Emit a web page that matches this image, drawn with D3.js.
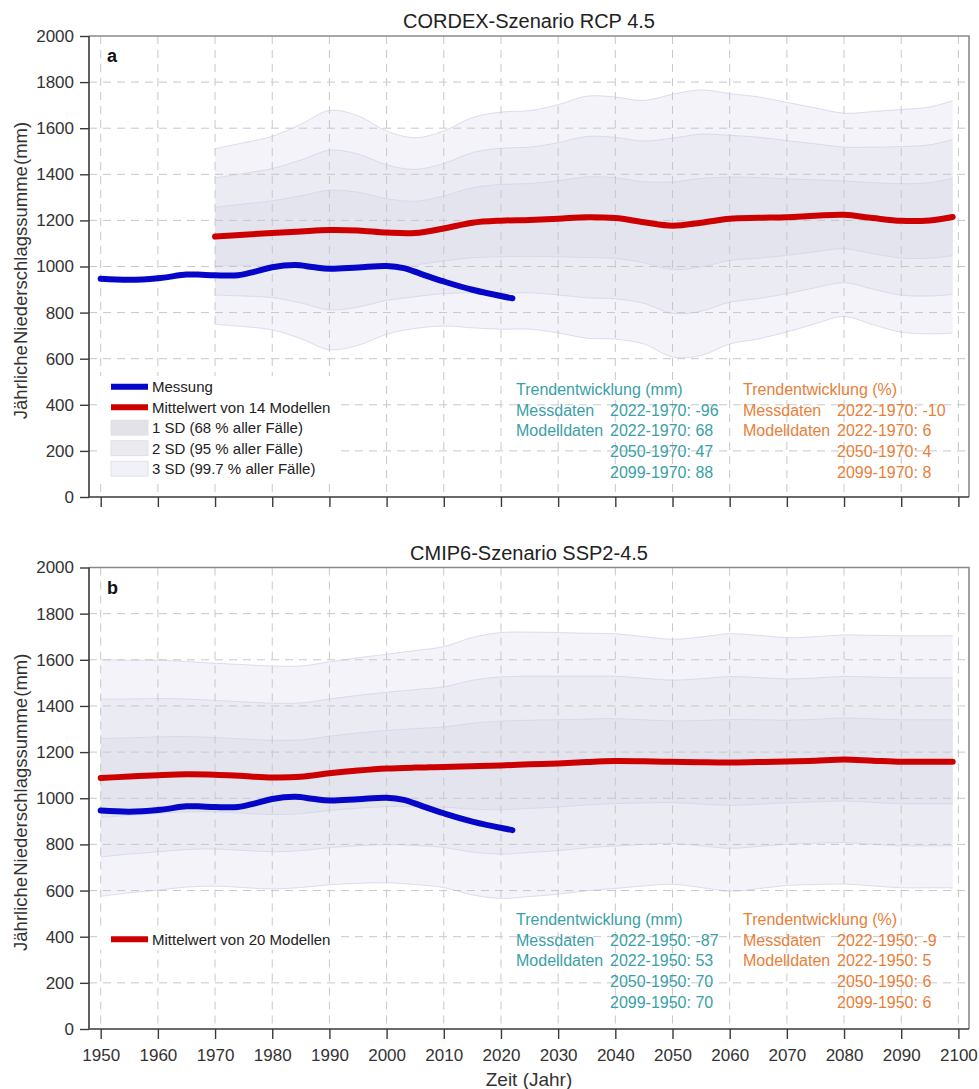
<!DOCTYPE html>
<html>
<head>
<meta charset="utf-8">
<script src="https://cdn.jsdelivr.net/npm/d3@7"></script>
<style>
  body { margin: 0; background: #fff; }
  svg { display: block; }
  text { font-family: "Liberation Sans", Arial, Helvetica, sans-serif; }
</style>
</head>
<body>
<svg id="chart" width="979" height="1089"></svg>
<script>
// ---- Measured annual precipitation (mm) ----
const obsYears  = [1950, 1955, 1960, 1965, 1967, 1970, 1974, 1977, 1980, 1984, 1987, 1990, 1995, 2000, 2003, 2006, 2010, 2015, 2022];
const obsValues = [947, 942, 949, 965, 965, 962, 962, 978, 997, 1006, 998, 990, 996, 1002, 993, 968, 935, 899, 862];

// ---- CORDEX RCP 4.5 ensemble (14 models): mean and standard deviation ----
const cordexYears = [1970, 1975, 1980, 1985, 1990, 1995, 2000, 2005, 2010, 2015, 2020, 2025, 2030, 2035,
                     2040, 2045, 2050, 2055, 2060, 2065, 2070, 2075, 2080, 2085, 2090, 2095, 2099];
const cordexMean  = [1130, 1138, 1145, 1152, 1158, 1156, 1147, 1145, 1165, 1190, 1199, 1202, 1207, 1214,
                     1210, 1192, 1177, 1190, 1207, 1211, 1214, 1220, 1224, 1210, 1198, 1200, 1215];
const cordexSd    = [127, 133, 140, 155, 173, 166, 147, 138, 141, 152, 157, 158, 165, 175,
                     175, 176, 190, 192, 181, 175, 166, 156, 147, 154, 161, 164, 168];

// ---- CMIP6 SSP2-4.5 ensemble (20 models): mean and standard deviation ----
const cmipYears = [1950, 1955, 1960, 1965, 1970, 1975, 1980, 1985, 1990, 1995, 2000, 2005, 2010, 2015, 2020, 2025,
                   2030, 2035, 2040, 2045, 2050, 2055, 2060, 2065, 2070, 2075, 2080, 2085, 2090, 2095, 2099];
const cmipMean  = [1088, 1094, 1100, 1104, 1102, 1096, 1090, 1093, 1108, 1120, 1129, 1133, 1135, 1139, 1142, 1147,
                   1151, 1157, 1161, 1160, 1158, 1156, 1155, 1157, 1159, 1163, 1168, 1163, 1158, 1158, 1158];
const cmipSd    = [171, 168, 166, 163, 161, 161, 161, 160, 161, 163, 165, 169, 174, 186, 192, 191,
                   189, 186, 184, 180, 177, 181, 186, 183, 179, 179, 180, 181, 182, 182, 182];

// ---- Axes ----
const yTicks = [0, 200, 400, 600, 800, 1000, 1200, 1400, 1600, 1800, 2000];
const xTicks = [1950, 1960, 1970, 1980, 1990, 2000, 2010, 2020, 2030, 2040, 2050, 2060, 2070, 2080, 2090, 2100];
const sdLevels = [3, 2, 1];

// ---- Text ----
const titleA = "CORDEX-Szenario RCP 4.5";
const titleB = "CMIP6-Szenario SSP2-4.5";
const yAxisTitle = "Jährliche Niederschlagssumme (mm)";
const xAxisTitle = "Zeit (Jahr)";
const legendObs = "Messung";
const legendMeanA = "Mittelwert von 14 Modellen";
const legendMeanB = "Mittelwert von 20 Modellen";
const legendSd = ["1 SD (68 % aller Fälle)", "2 SD (95 % aller Fälle)", "3 SD (99.7 % aller Fälle)"];
const trendHeadMm = "Trendentwicklung (mm)";
const trendHeadPct = "Trendentwicklung (%)";
const trendMmA  = [["Messdaten", "2022-1970: -96"], ["Modelldaten", "2022-1970: 68"], ["", "2050-1970: 47"], ["", "2099-1970: 88"]];
const trendPctA = [["Messdaten", "2022-1970: -10"], ["Modelldaten", "2022-1970: 6"], ["", "2050-1970: 4"], ["", "2099-1970: 8"]];
const trendMmB  = [["Messdaten", "2022-1950: -87"], ["Modelldaten", "2022-1950: 53"], ["", "2050-1950: 70"], ["", "2099-1950: 70"]];
const trendPctB = [["Messdaten", "2022-1950: -9"], ["Modelldaten", "2022-1950: 5"], ["", "2050-1950: 6"], ["", "2099-1950: 6"]];

// ---- Styling ----
const BLUE = "#0606c8", RED = "#cc0000";
const TEAL = "#3a9fa8", ORANGE = "#e8803a";
const bandFill = { 3: "#f3f3f9", 2: "#ebebf4", 1: "#e4e4ef" };
const legendBoxFill = ["#e3e3e7", "#eaeaef", "#f1f1f8"];

const svg = d3.select("#chart");
const plotLeft = 89, plotRight = 969;
const x = d3.scaleLinear().domain([1950, 2100]).range([100.7, 958.4]);

function drawPanel(cfg) {
  const g = svg.append("g");
  const y = d3.scaleLinear().domain([0, 2000]).range([cfg.bottom, cfg.top]);
  const ens = cfg.years.map((yr, i) => ({ year: yr, mean: cfg.mean[i], sd: cfg.sd[i] }));

  // SD envelopes, widest first
  sdLevels.forEach(k => {
    const area = d3.area().curve(d3.curveCatmullRom)
      .x(d => x(d.year))
      .y0(d => y(d.mean - k * d.sd))
      .y1(d => y(d.mean + k * d.sd));
    g.append("path").datum(ens).attr("d", area).attr("fill", bandFill[k]);
    [1, -1].forEach(s => {
      const edge = d3.line().curve(d3.curveCatmullRom)
        .x(d => x(d.year)).y(d => y(d.mean + s * k * d.sd));
      g.append("path").datum(ens).attr("d", edge)
        .attr("fill", "none").attr("stroke", "#d4d4e8").attr("stroke-width", 0.8);
    });
  });

  // dashed grid
  const grid = g.append("g").attr("stroke", "#c8c8c8").attr("stroke-width", 1).attr("stroke-dasharray", "8,6");
  yTicks.filter(v => v > 0 && v < 2000).forEach(v => {
    grid.append("line").attr("x1", plotLeft).attr("x2", plotRight).attr("y1", y(v)).attr("y2", y(v));
  });
  xTicks.forEach(v => {
    grid.append("line").attr("x1", x(v)).attr("x2", x(v)).attr("y1", cfg.top).attr("y2", cfg.bottom);
  });

  // frame
  g.append("path")
    .attr("d", `M${plotLeft},${cfg.top} H${plotRight} V${cfg.bottom}`)
    .attr("fill", "none").attr("stroke", "#8a8a8a").attr("stroke-width", 1.6);

  // legend background
  const lg = g.append("g");
  lg.append("rect").attr("x", 97).attr("y", cfg.legendTop).attr("width", 239).attr("height", cfg.legendHeight).attr("fill", "#fff");

  // series lines
  const line = d3.line().curve(d3.curveCatmullRom).x(d => x(d[0])).y(d => y(d[1]));
  g.append("path").datum(obsYears.map((yr, i) => [yr, obsValues[i]])).attr("d", line)
    .attr("fill", "none").attr("stroke", BLUE).attr("stroke-width", 6).attr("stroke-linecap", "round").attr("stroke-linejoin", "round");
  g.append("path").datum(ens.map(d => [d.year, d.mean])).attr("d", line)
    .attr("fill", "none").attr("stroke", RED).attr("stroke-width", 6).attr("stroke-linecap", "round").attr("stroke-linejoin", "round");

  // axes
  const yAxis = g.append("g").attr("transform", `translate(${plotLeft},0)`)
    .call(d3.axisLeft(y).tickValues(yTicks).tickSize(9).tickPadding(6).tickFormat(d3.format("d")));
  const xAxis = g.append("g").attr("transform", `translate(0,${cfg.bottom})`)
    .call(d3.axisBottom(x).tickValues(xTicks).tickSize(10).tickPadding(10).tickFormat(cfg.xLabels ? d3.format("d") : () => ""));
  [yAxis, xAxis].forEach(a => {
    a.select(".domain").remove();
    a.selectAll(".tick line").attr("stroke", "#3a3a3a").attr("stroke-width", 1.4);
    a.selectAll(".tick text").attr("fill", "#333").style("font-size", "17px")
      .style("font-family", '"Liberation Sans", Arial, sans-serif');
  });
  g.append("path").attr("d", `M${plotLeft},${cfg.top} V${cfg.bottom} H${plotRight}`)
    .attr("fill", "none").attr("stroke", "#3a3a3a").attr("stroke-width", 1.6);

  // title and panel letter
  g.append("text").attr("x", (plotLeft + plotRight) / 2).attr("y", cfg.top - 8)
    .attr("text-anchor", "middle").attr("fill", "#222").style("font-size", "20px").text(cfg.title);
  g.append("text").attr("x", 107).attr("y", cfg.top + 26)
    .attr("fill", "#111").style("font-size", "18px").style("font-weight", "bold").text(cfg.letter);

  // y-axis title
  g.append("text").attr("transform", `translate(27,${(cfg.top + cfg.bottom) / 2 + 4}) rotate(-90)`)
    .attr("text-anchor", "middle").attr("fill", "#333").style("font-size", "18.5px").style("word-spacing", "-4px")
    .text(yAxisTitle);

  // legend entries
  cfg.legend.forEach((item, i) => {
    const cy = cfg.legendFirst + i * 20.5;
    if (item.type === "line") {
      lg.append("line").attr("x1", 111).attr("x2", 148).attr("y1", cy).attr("y2", cy)
        .attr("stroke", item.color).attr("stroke-width", 6);
    } else {
      lg.append("rect").attr("x", 111).attr("y", cy - 7.5).attr("width", 37).attr("height", 15)
        .attr("fill", item.color).attr("stroke", "#dcdce6").attr("stroke-width", 0.8);
    }
    lg.append("text").attr("x", 152).attr("y", cy).attr("dy", "0.36em")
      .attr("fill", "#222").style("font-size", "15px").text(item.label);
  });

  // trend annotations
  const rows = cfg.trendBase;
  const writeCol = (x0, x1, head, entries, color) => {
    g.append("text").attr("x", x0).attr("y", rows).attr("fill", color).style("font-size", "16px").text(head);
    entries.forEach((e, i) => {
      const yy = rows + (i + 1) * 20.7;
      if (e[0]) g.append("text").attr("x", x0).attr("y", yy).attr("fill", color).style("font-size", "16px").text(e[0]);
      g.append("text").attr("x", x1).attr("y", yy).attr("fill", color).style("font-size", "16px").text(e[1]);
    });
  };
  writeCol(516, 610, trendHeadMm, cfg.trendMm, TEAL);
  writeCol(743, 837, trendHeadPct, cfg.trendPct, ORANGE);
}

drawPanel({
  top: 36, bottom: 497, title: titleA, letter: "a", xLabels: false,
  years: cordexYears, mean: cordexMean, sd: cordexSd,
  legendTop: 376, legendHeight: 106, legendFirst: 386.7,
  legend: [
    { type: "line", color: BLUE, label: legendObs },
    { type: "line", color: RED, label: legendMeanA },
    { type: "box", color: legendBoxFill[0], label: legendSd[0] },
    { type: "box", color: legendBoxFill[1], label: legendSd[1] },
    { type: "box", color: legendBoxFill[2], label: legendSd[2] }
  ],
  trendBase: 395, trendMm: trendMmA, trendPct: trendPctA
});

drawPanel({
  top: 567.5, bottom: 1029, title: titleB, letter: "b", xLabels: true,
  years: cmipYears, mean: cmipMean, sd: cmipSd,
  legendTop: 928, legendHeight: 22, legendFirst: 939.3,
  legend: [{ type: "line", color: RED, label: legendMeanB }],
  trendBase: 925, trendMm: trendMmB, trendPct: trendPctB
});

// x-axis title
svg.append("text").attr("x", (plotLeft + plotRight) / 2).attr("y", 1086)
  .attr("text-anchor", "middle").attr("fill", "#333").style("font-size", "19px").text(xAxisTitle);
</script>
</body>
</html>
